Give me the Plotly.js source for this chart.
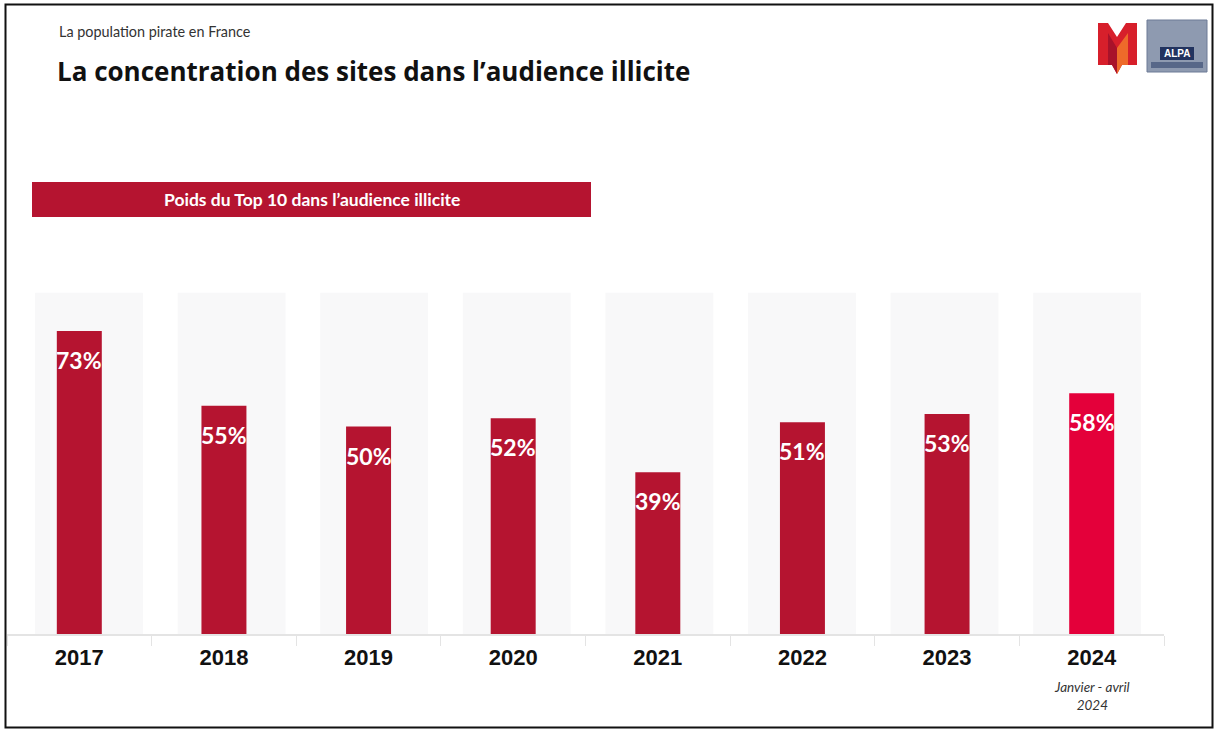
<!DOCTYPE html>
<html>
<head>
<meta charset="utf-8">
<script src="https://cdn.plot.ly/plotly-3.0.1.min.js"></script>
<style>
  html, body { margin: 0; padding: 0; background: #ffffff; }
  #chart { width: 1216px; height: 730px; }
</style>
</head>
<body>
<div id="chart"></div>
<script>
// ---- data ----
const years = ['2017', '2018', '2019', '2020', '2021', '2022', '2023', '2024'];
const shares = [73, 55, 50, 52, 39, 51, 53, 58];
const shareLabels = ['73%', '55%', '50%', '52%', '39%', '51%', '53%', '58%'];
const periodNote = 'Janvier - avril<br>2024';
const kicker = 'La population pirate en France';
const headline = 'La concentration des sites dans l\u2019audience illicite';
const bannerText = 'Poids du Top 10 dans l\u2019audience illicite';

// ---- styling ----
const W = 1216, H = 730;
const M = { l: 7, r: 52, t: 219, b: 96 };
const DARK_RED = '#b51430';
const BRIGHT_RED = '#e4003a';
const barColors = years.map((y, i) => i === years.length - 1 ? BRIGHT_RED : DARK_RED);

// pixel -> paper helpers (for decorative items only)
const px = v => (v - M.l) / (W - M.l - M.r);
const py = v => (H - M.b - v) / (H - M.t - M.b);

const shapes = [];
// light backdrop columns behind each bar
years.forEach((y, i) => {
  const c = 0.067 + 0.9859 * i;
  shapes.push({
    type: 'rect', xref: 'x', yref: 'y', layer: 'below',
    x0: c - 0.373, x1: c + 0.373, y0: 0, y1: 82.2,
    fillcolor: '#f8f8f9', line: { width: 0 }
  });
});
// banner
shapes.push({
  type: 'rect', xref: 'paper', yref: 'paper',
  x0: px(32), x1: px(591), y0: py(217), y1: py(182),
  fillcolor: DARK_RED, line: { width: 0 }
});
// frame
shapes.push({
  type: 'rect', xref: 'paper', yref: 'paper',
  x0: px(5.5), x1: px(1212.5), y0: py(727.5), y1: py(4.5),
  line: { color: '#111111', width: 2 }, fillcolor: 'rgba(0,0,0,0)'
});
// M logo
function poly(pts, fill) {
  const d = pts.map((p, k) => (k ? 'L' : 'M') + px(p[0]) + ',' + py(p[1])).join(' ') + ' Z';
  shapes.push({ type: 'path', xref: 'paper', yref: 'paper', path: d, fillcolor: fill, line: { width: 0 } });
}
poly([[1098,23],[1108,23],[1117,37],[1126,23],[1137,23],[1137,65],[1122,65],[1117,74],[1112,65],[1098,65]], '#d71f2b');
poly([[1117,48],[1128,33],[1128,65],[1122,65],[1117,74]], '#ee6a2a');
poly([[1108,33],[1117,48],[1117,74],[1112,65],[1108,65]], '#a8122a');
// ALPA logo
shapes.push({ type: 'rect', xref: 'paper', yref: 'paper',
  x0: px(1147), x1: px(1207), y0: py(72), y1: py(20),
  fillcolor: '#8e9ab0', line: { color: '#6c7b96', width: 1 } });
shapes.push({ type: 'rect', xref: 'paper', yref: 'paper',
  x0: px(1160), x1: px(1194), y0: py(60), y1: py(47),
  fillcolor: '#22335f', line: { width: 0 } });
shapes.push({ type: 'rect', xref: 'paper', yref: 'paper',
  x0: px(1151), x1: px(1203), y0: py(68), y1: py(62),
  fillcolor: '#4a5a7e', line: { width: 0 }, opacity: 0.8 });

const annotations = [];
// value labels inside bars (category axes take the category index)
years.forEach((y, i) => {
  annotations.push({
    x: i, y: shares[i], xref: 'x', yref: 'y',
    text: shareLabels[i], showarrow: false,
    yanchor: 'middle', yshift: -29,
    font: { family: 'Lato, Roboto, sans-serif', size: 23, color: '#ffffff', weight: 'bold' }
  });
});
annotations.push({
  x: years.length - 1, xref: 'x', y: py(696), yref: 'paper',
  text: periodNote, showarrow: false, yanchor: 'middle',
  font: { family: 'Lato, "Open Sans", sans-serif', size: 13.5, color: '#333333', style: 'italic' }
});
annotations.push({
  x: px(57), y: py(31), xref: 'paper', yref: 'paper', xanchor: 'left', yanchor: 'middle',
  text: kicker, showarrow: false,
  font: { family: 'Lato, "Open Sans", sans-serif', size: 14.4, color: '#333333' }
});
annotations.push({
  x: px(55), y: py(71), xref: 'paper', yref: 'paper', xanchor: 'left', yanchor: 'middle',
  text: headline, showarrow: false,
  font: { family: '"Open Sans", Lato, sans-serif', size: 26, color: '#111111', weight: 'bold' }
});
annotations.push({
  x: px(312), y: py(200), xref: 'paper', yref: 'paper', xanchor: 'center', yanchor: 'middle',
  text: bannerText, showarrow: false,
  font: { family: 'Lato, sans-serif', size: 17.5, color: '#ffffff', weight: 'bold' }
});
annotations.push({
  x: px(1177), y: py(53.5), xref: 'paper', yref: 'paper', xanchor: 'center', yanchor: 'middle',
  text: 'ALPA', showarrow: false,
  font: { family: '"Liberation Sans", sans-serif', size: 10, color: '#ffffff', weight: 'bold' }
});

const trace = {
  type: 'bar', x: years, y: shares, width: 0.311,
  marker: { color: barColors, line: { width: 0 } },
  hoverinfo: 'x+y', cliponaxis: false
};

const layout = {
  width: W, height: H,
  margin: M,
  paper_bgcolor: '#ffffff', plot_bgcolor: 'rgba(0,0,0,0)',
  showlegend: false,
  xaxis: {
    type: 'category', range: [-0.5, 7.5], fixedrange: true,
    showgrid: false, zeroline: false,
    showline: true, linecolor: '#e4e4e4', linewidth: 2,
    ticks: 'outside', tickson: 'boundaries', ticklen: 10, tickcolor: '#e4e4e4', tickwidth: 1,
    ticklabelstandoff: 3,
    tickfont: { family: '"Liberation Sans", Arial, sans-serif', size: 22, color: '#111111', weight: 'bold' }
  },
  yaxis: { range: [0, 100], visible: false, fixedrange: true },
  shapes: shapes,
  annotations: annotations
};

Plotly.newPlot('chart', [trace], layout, { displayModeBar: false, staticPlot: true });
</script>
</body>
</html>
